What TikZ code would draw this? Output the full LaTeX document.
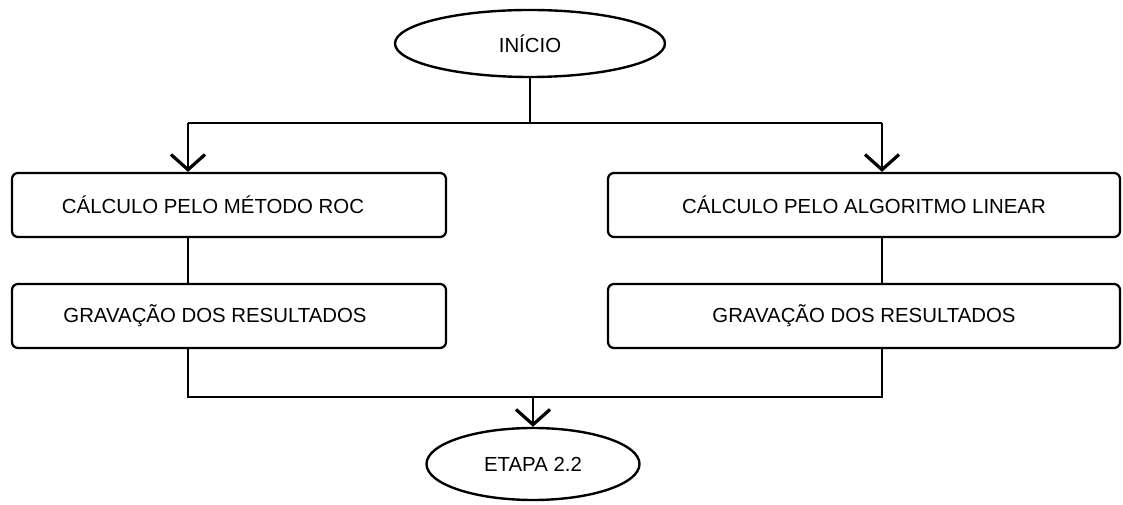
\documentclass[tikz,border=0pt]{standalone}
\usepackage{fontspec}
\setmainfont{Liberation Sans}
\usetikzlibrary{positioning,calc,arrows.meta,shapes.geometric}

\begin{document}
\begin{tikzpicture}[
        every node/.style={font=\fontsize{14.5}{17}\selectfont},
        terminal/.style={ellipse,draw=black,line width=1.7pt,inner sep=0pt},
        stepbox/.style={rectangle,rounded corners=1.5mm,draw=black,line width=1.6pt,minimum height=1.6cm,inner sep=0pt},
        link/.style={line width=1.8pt},
        flow/.style={line width=1.8pt,-{Straight Barb[length=3.8mm,width=8.5mm,line width=2.3pt]}}
    ]
        \useasboundingbox (0,0) rectangle (28.075,-12.625);

        \node[terminal,minimum width=6.75cm,minimum height=1.675cm] (inicio) at (13.25,-1.0875) {INÍCIO};

        \node[stepbox,minimum width=10.85cm] (roc) at (5.725,-5.125) {CÁLCULO PELO MÉTODO ROC\kern0.8cm};
        \node[stepbox,minimum width=12.8cm] (linear) at (21.6,-5.125) {CÁLCULO PELO ALGORITMO LINEAR};
        \node[stepbox,minimum width=10.85cm] (gravroc) at (5.725,-7.9) {GRAVAÇÃO DOS RESULTADOS\kern0.7cm};
        \node[stepbox,minimum width=12.8cm] (gravlinear) at (21.6,-7.9) {GRAVAÇÃO DOS RESULTADOS};

        \node[terminal,minimum width=5.325cm,minimum height=1.8cm] (etapa) at (13.325,-11.6) {ETAPA 2.2};

        \coordinate (splitL) at (4.7,-3.075);
        \coordinate (splitR) at (22.05,-3.075);
        \coordinate (joinL) at (4.7,-9.925);
        \coordinate (joinR) at (22.05,-9.925);

        \draw[link] (inicio.south) -- (inicio.south |- splitL);
        \draw[link] (splitL) -- (splitR);
        \draw[flow] (splitL) -- (splitL |- roc.north);
        \draw[flow] (splitR) -- (splitR |- linear.north);
        \draw[link] (splitL |- roc.south) -- (splitL |- gravroc.north);
        \draw[link] (splitR |- linear.south) -- (splitR |- gravlinear.north);
        \draw[link] (splitL |- gravroc.south) -- (joinL) -- (joinR) -- (splitR |- gravlinear.south);
        \draw[flow] (etapa.north |- joinL) -- (etapa.north);
    \end{tikzpicture}
\end{document}
